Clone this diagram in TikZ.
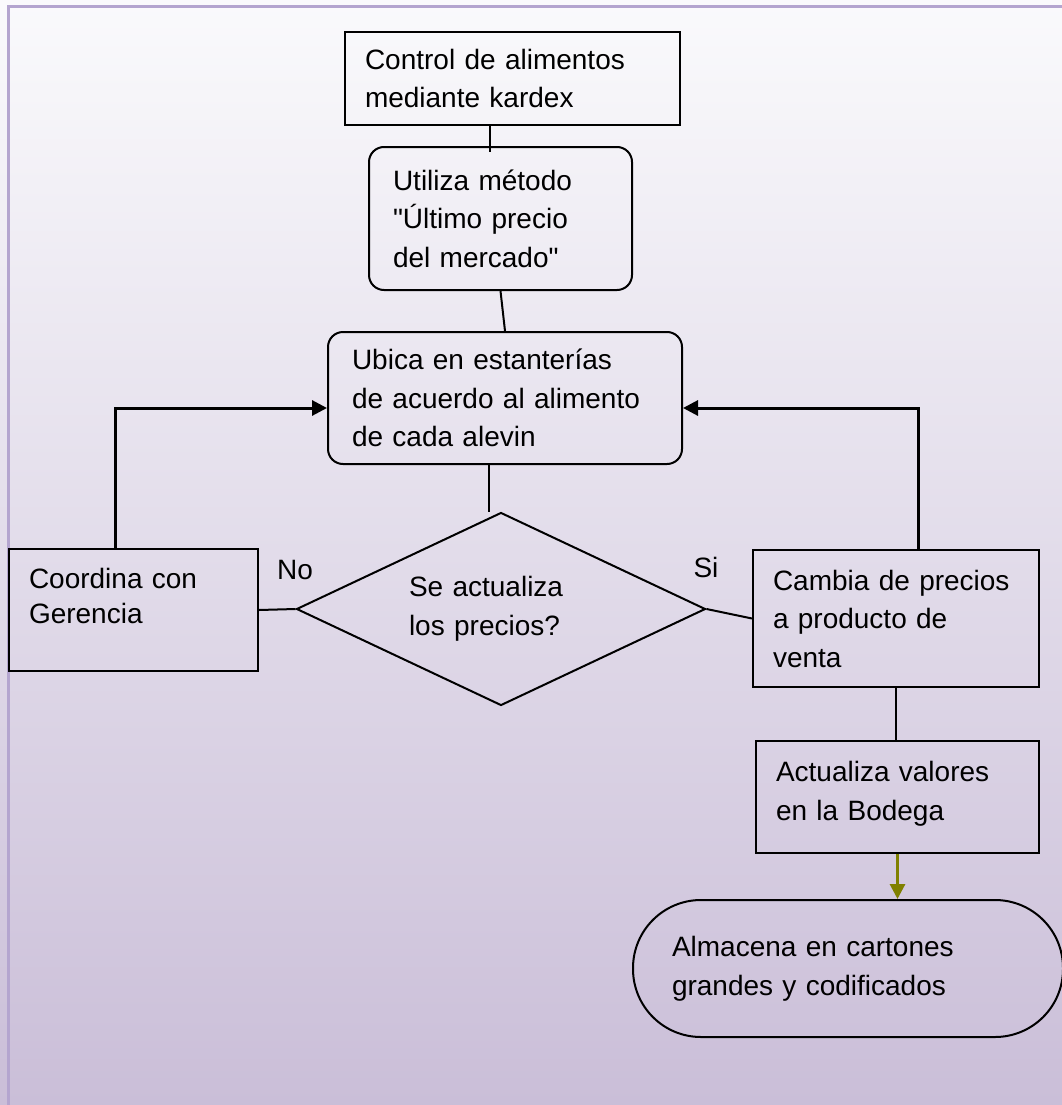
\documentclass[tikz,border=0pt]{standalone}
\usepackage{fontspec}
\setmainfont{Liberation Sans}
\usetikzlibrary{shapes.geometric,arrows.meta}

\definecolor{fondoarriba}{RGB}{250,250,252}
\definecolor{fondoabajo}{RGB}{202,190,216}
\definecolor{marco}{RGB}{180,165,207}
\definecolor{oliva}{RGB}{128,128,0}

\tikzset{
  caja/.style={draw, line width=2pt, rectangle, inner xsep=20pt, inner ysep=0pt,
    align=left, font=\fontsize{28}{38.5}\selectfont},
  cajaredonda/.style={caja, rounded corners=15pt},
  decision/.style={draw, line width=2pt, diamond, inner sep=0pt, aspect=2.1,
    align=left, text width=184pt, font=\fontsize{28}{38.5}\selectfont},
  terminal/.style={caja, rounded corners=68pt, inner xsep=39pt},
  conector/.style={line width=2pt},
  flecha/.style={line width=3pt, -{Triangle[length=15pt,width=15pt]}},
  etiqueta/.style={inner sep=0pt, font=\fontsize{28}{34}\selectfont}
}

\begin{document}
\begin{tikzpicture}[x=1pt,y=-1pt]
        \useasboundingbox (0,0) rectangle (1062,1105);
        \fill[top color=fondoarriba, bottom color=fondoabajo] (0,0) rectangle (1062,1105);
        \draw[marco, line width=3pt] (8,1106) -- (8,7) -- (1063,7);

        \node[caja, minimum width=335pt, minimum height=93pt, text width=295pt]
        (kardex) at (512.5,78.5) {Control de alimentos\\mediante kardex};
        \node[cajaredonda, minimum width=263pt, minimum height=143pt, text width=215pt, inner xsep=24pt]
        (metodo) at (500.5,218.5) {Utiliza método\\\textquotedbl Último precio\\del mercado\textquotedbl};
        \node[cajaredonda, minimum width=354pt, minimum height=132pt, text width=306pt, inner xsep=24pt]
        (ubica) at (505,398) {Ubica en estanterías\\de acuerdo al alimento\\de cada alevin};
        \node[decision, minimum width=409pt, minimum height=193pt]
        (precios) at (501,609) {Se actualiza\\los precios?};
        \node[caja, minimum width=249pt, minimum height=122pt, text width=209pt]
        (gerencia) at (133.5,610) {Coordina con\\[-3pt]Gerencia\\[-10pt]\mbox{}};
        \node[caja, minimum width=286pt, minimum height=137pt, text width=246pt]
        (cambia) at (896,618.5) {Cambia de precios\\a producto de\\venta};
        \node[caja, minimum width=283pt, minimum height=112pt, text width=243pt]
        (bodega) at (897.5,797) {Actualiza valores\\en la Bodega\\[-26pt]\mbox{}};
        \node[terminal, minimum width=430pt, minimum height=137pt, text width=352pt]
        (almacena) at (848,968.5) {Almacena en cartones\\grandes y codificados};

        \node[etiqueta] (lblno) at (295,570) {No};
        \node[etiqueta] (lblsi) at (706,567) {Si};

        \draw[conector] ([xshift=-22.5pt]kardex.south) -- ([xshift=-10.5pt,yshift=-6pt]metodo.north);
        \draw[conector] (metodo.south) -- (ubica.north);
        \draw[conector] ([xshift=-16pt]ubica.south) -- ([xshift=-12pt]precios.north);
        \draw[conector] (precios.west) -- (gerencia.east);
        \draw[conector] (precios.east) -- (cambia.west);
        \draw[conector] (cambia.south) -- (cambia.south |- bodega.north);

        \draw[flecha] ([xshift=-18.5pt]gerencia.north) |- ([yshift=-10pt]ubica.west);
        \draw[flecha] ([xshift=22pt]cambia.north) |- ([yshift=-10pt]ubica.east);
        \draw[flecha, oliva] (bodega.south) -- (bodega.south |- almacena.north);
      \end{tikzpicture}
\end{document}
